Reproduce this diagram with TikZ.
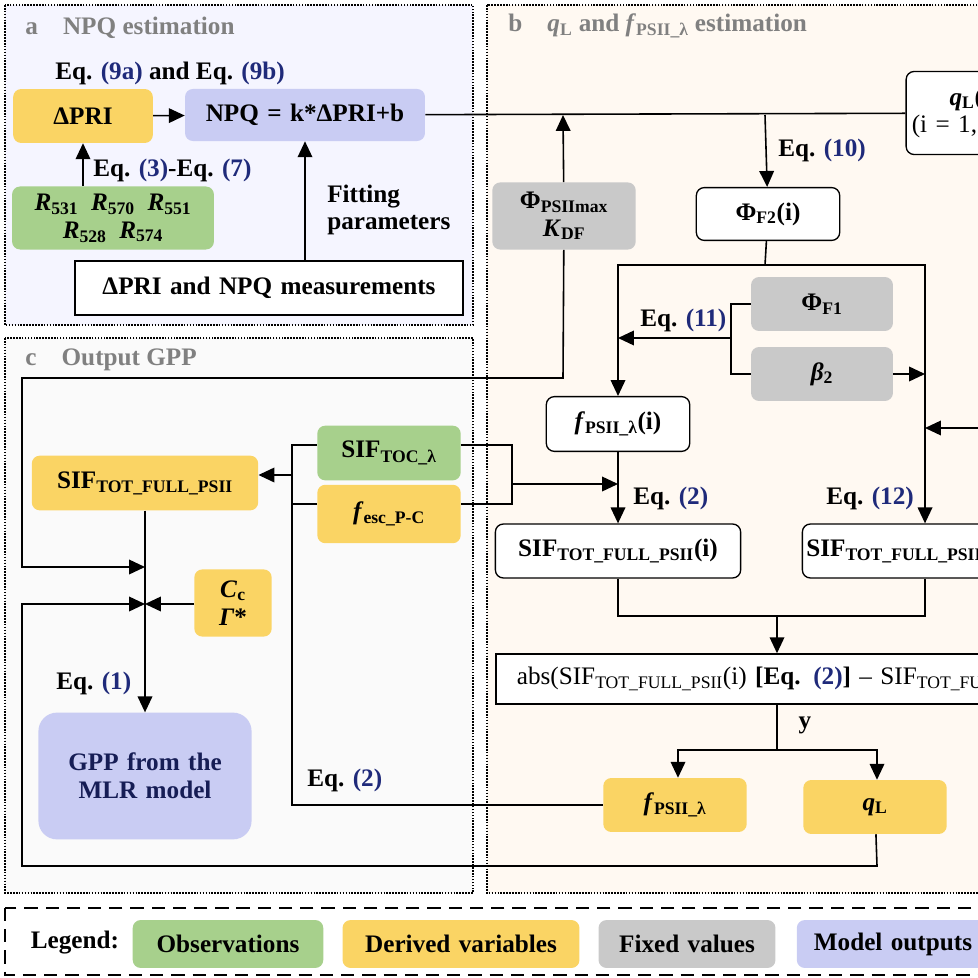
\documentclass[tikz,border=0pt]{standalone}
\usepackage{fontspec}
\setmainfont{Liberation Serif}
\usetikzlibrary{arrows.meta}
\definecolor{eqblue}{HTML}{1F2A7A}
\definecolor{obsgreen}{HTML}{A7D08C}
\definecolor{dervyellow}{HTML}{FAD464}
\definecolor{fixgray}{HTML}{C9C9C9}
\definecolor{outblue}{HTML}{C9CCF3}
\newcommand{\eqn}[1]{Eq. \textcolor{eqblue}{(#1)}}
\newcommand{\sub}[1]{\textsubscript{#1}}
\tikzset{
  panel/.style={draw, densely dotted, line width=1.2pt},
  cell/.style={rounded corners=6pt, align=center, inner sep=0pt, font=\bfseries\fontsize{19}{21}\selectfont},
  obs/.style={cell, fill=obsgreen},
  derv/.style={cell, fill=dervyellow},
  fix/.style={cell, fill=fixgray},
  mout/.style={cell, fill=outblue},
  plain/.style={cell, draw, line width=1pt, fill=white},
  lbl/.style={font=\bfseries\fontsize{19}{21}\selectfont, inner sep=0pt},
  ttl/.style={font=\bfseries\fontsize{19}{21}\selectfont, text=gray, inner sep=0pt, anchor=west},
  flow/.style={line width=1.2pt, -{Triangle[length=12pt,width=11pt]}},
  link/.style={line width=1.2pt}
}
\begin{document}
\begin{tikzpicture}[x=0.0265cm, y=-0.0265cm]
\useasboundingbox (0,0) rectangle (977,978);
% panels
\path[panel, fill=blue!4] (5,5) rectangle (473,325);
\path[panel, fill=orange!5] (487,5) rectangle (1100,893);
\path[panel, fill=green!5!gray!4] (5,338) rectangle (473,893);
\node[ttl] (ta) at (25,28) {a\quad NPQ estimation};
\node[ttl] (tb) at (508,26) {b\quad \textit{q}\sub{L} and \textit{f}\sub{PSII\_λ} estimation};
\node[ttl] (tc) at (25,360) {c\quad Output GPP};

% panel a
\node[derv, text width=3.7cm, minimum height=1.43cm] (dpri) at (83,116) {ΔPRI};
\node[mout, text width=6.36cm, minimum height=1.38cm] (npq) at (305,115) {NPQ = k*ΔPRI+b};
\node[obs, text width=5.35cm, minimum height=1.67cm] (refl) at (113,218) {\textit{R}\sub{531}\enspace \textit{R}\sub{570}\enspace \textit{R}\sub{551}\\ \textit{R}\sub{528}\enspace \textit{R}\sub{574}\hspace*{2.8em}};
\node[plain, rounded corners=0pt, text width=10.28cm, minimum height=1.43cm] (meas) at (269,288) {ΔPRI and NPQ measurements};
\node[lbl, anchor=west] (eq9) at (55,73) {\eqn{9a} and \eqn{9b}};
\node[lbl, anchor=west] (eq3) at (93,170) {\eqn{3}-\eqn{7}};
\node[lbl, align=left, anchor=west] (fit) at (327,210) {Fitting\\parameters};
\draw[flow] (dpri) -- (npq);
\draw[flow] (refl.north -| dpri) -- (dpri);
\draw[flow] (meas.north -| npq) -- (npq);

% panel b
\node[plain, align=left, text width=5.4cm, minimum height=2.2cm, font=\fontsize{19}{21}\selectfont] (qli) at (1008,113) {\hspace*{1.15cm}\textbf{\textit{q}\sub{L}(i)}\\\hspace*{0.15cm}(i = 1, 2, ..., n)};
\node[fix, text width=3.8cm, minimum height=1.78cm] (phimax) at (564,216) {Φ\sub{PSIImax}\\ \textit{K}\sub{DF}};
\node[plain, text width=3.8cm, minimum height=1.4cm] (phif2) at (768,214) {Φ\sub{F2}(i)};
\node[fix, text width=3.76cm, minimum height=1.43cm] (phif1) at (822,304) {Φ\sub{F1}};
\node[fix, text width=3.76cm, minimum height=1.43cm] (beta) at (822,374) {\textit{β}\sub{2}};
\node[plain, text width=3.8cm, minimum height=1.45cm] (fpsi) at (618,424) {\textit{f}\sub{PSII\_λ}(i)};
\node[plain, text width=6.5cm, minimum height=1.43cm] (sifl) at (618,551) {SIF\sub{TOT\_FULL\_PSII}(i)};
\node[plain, text width=6.5cm, minimum height=1.43cm] (sifr) at (925,551) {\hspace*{-1.5em}SIF\sub{TOT\_FULL\_PSII}(i)};
\node[plain, rounded corners=0pt, text width=18.6cm, minimum height=1.33cm, font=\fontsize{19}{21}\selectfont, align=left] (absd) at (847,679) {\hspace*{0.55cm}abs(SIF\sub{TOT\_FULL\_PSII}(i) \textbf{[\eqn{2}]} -- SIF\sub{TOT\_FULL\_PSII}(i) \textbf{[\eqn{12}]})};
\node[derv, text width=3.8cm, minimum height=1.43cm] (fpsl) at (675,805) {\textit{f}\sub{PSII\_λ}};
\node[derv, text width=3.8cm, minimum height=1.43cm] (qlo) at (875,807) {\textit{q}\sub{L}};
\node[lbl, anchor=west] (eq10) at (778,150) {\eqn{10}};
\node[lbl, anchor=west] (eq11) at (640,320) {\eqn{11}};
\node[lbl, anchor=west] (eq2a) at (633,498) {\eqn{2}};
\node[lbl, anchor=west] (eq12) at (826,498) {\eqn{12}};
\node[lbl] (ylab) at (805,725) {y};
\coordinate (split) at (765,265);
\coordinate (ybr) at (777,750);
\coordinate (rin) at (1000,428);
\coordinate (mrg) at (777,616);
\draw[link] (npq) -- (qli);
\draw[flow] (765,115) -- (phif2);
\draw[flow] (phimax) -- (563,115);
\draw[link] (phif2) -- (split);
\draw[flow] (split) -| (fpsi);
\draw[flow] (split) -| (sifr.north -| 925,0);
\draw[link] (phif1.west) -- (731,304) -- (731,374) -- (beta.west);
\draw[flow] (731,338) -- (618,338);
\draw[flow] (beta) -- (925,374);
\draw[flow] (rin) -- (925,428);
\draw[flow] (fpsi) -- (sifl);
\draw[link] (sifl) |- (mrg) -| (sifr.south -| 925,0);
\draw[flow] (mrg) -- (absd.north -| mrg);
\draw[link] (absd.south -| ybr) -- (ybr);
\draw[flow] (ybr) -| (fpsl.north -| 678,0);
\draw[flow] (ybr) -| (qlo.north -| 877,0);

% panel c
\node[obs, text width=3.8cm, minimum height=1.45cm] (siftoc) at (389,453) {SIF\sub{TOC\_λ}};
\node[derv, text width=3.8cm, minimum height=1.55cm] (fesc) at (389,514) {\textit{f}\sub{esc\_P-C}};
\node[derv, text width=6cm, minimum height=1.45cm] (siftot) at (145,483) {SIF\sub{TOT\_FULL\_PSII}};
\node[derv, text width=2.05cm, minimum height=1.78cm] (ccg) at (233,603) {\textit{C}\sub{c}\\ \textit{Γ}*};
\node[mout, rounded corners=14pt, text width=5.65cm, minimum height=3.36cm, text=eqblue!70!black] (gpp) at (145,776) {GPP from the\\MLR model};
\node[lbl, anchor=west] (eq1) at (56,683) {\eqn{1}};
\node[lbl, anchor=west] (eq2b) at (307,780) {\eqn{2}};
\coordinate (jn) at (145,604);
\draw[link] (siftoc.west |- 0,445) -- (292,445) -- (292,805) -- (fpsl.west |- 0,805);
\draw[link] (fesc.west |- 0,504) -- (292,504);
\draw[flow] (292,475) -- (siftot.east |- 0,475);
\draw[link] (siftoc.east |- 0,445) -- (512,445) -- (512,504) -- (fesc.east |- 0,504);
\draw[flow] (512,484) -- (618,484);
\draw[flow] (siftot) -- (gpp);
\draw[flow] (phimax) -- (563,378) -- (22,378) -- (22,567) -- (145,567);
\draw[flow] (qlo) -- (877,866) -- (22,866) -- (22,604) -- (jn);
\draw[flow] (ccg.west |- jn) -- (jn);

% legend
\draw[line width=1.5pt, dash pattern=on 10pt off 6pt] (5,908) rectangle (1100,975);
\node[lbl] (leg) at (75,943) {Legend:};
\node[obs, text width=5.05cm, minimum height=1.27cm] (lobs) at (228,944) {Observations};
\node[derv, text width=6.28cm, minimum height=1.27cm] (lder) at (461,944) {Derived variables};
\node[fix, text width=4.69cm, minimum height=1.27cm] (lfix) at (687,944) {Fixed values};
\node[mout, text width=5.1cm, minimum height=1.27cm] (lout) at (893,944) {Model outputs};
\end{tikzpicture}
\end{document}
